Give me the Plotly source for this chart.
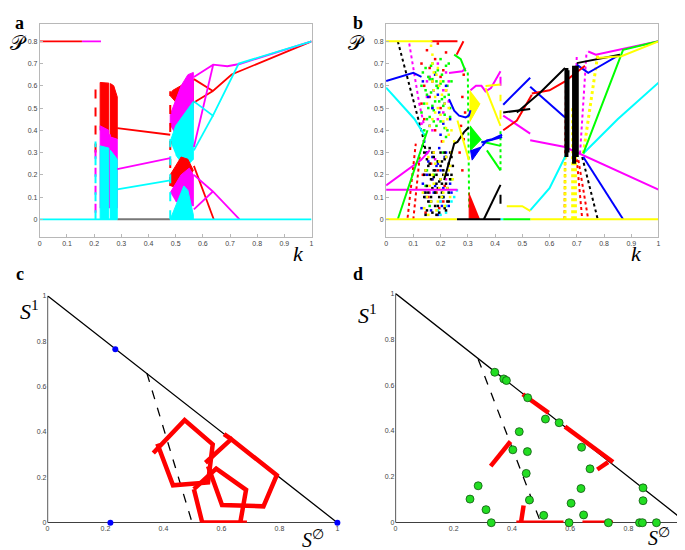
import plotly.graph_objects as go

# ---------------- Panel a data ----------------
a_red_k = [0, 0.155, None, 0.285, 0.48, None, 0.567, 0.637, 0.706, 1.0, None, 0.567, 0.637, None, 0.567, 0.64]
a_red_p = [0.8, 0.8, None, 0.41, 0.38, None, 0.525, 0.577, 0.651, 0.8, None, 0.63, 0.577, None, 0.24, 0.0]
a_mag_k = [0.155, 0.225, None, 0.285, 0.48, None, 0.567, 0.638, 0.69, 0.735, 1.0, None, 0.567, 0.638, None, 0.567, 0.637, 0.735, None, 0.567, 0.637]
a_mag_p = [0.8, 0.8, None, 0.225, 0.275, None, 0.64, 0.695, 0.688, 0.698, 0.8, None, 0.325, 0.695, None, 0.2, 0.125, 0.0, None, 0.045, 0.125]
a_cyan_k = [0, 0.285, None, 0.48, 1.0, None, 0.285, 0.48, None, 0.567, 0.637, 0.732, 1.0, None, 0.567, 0.637]
a_cyan_p = [0, 0, None, 0, 0, None, 0.135, 0.175, None, 0.53, 0.466, 0.70, 0.8, None, 0.31, 0.466]
a_gray_k = [0.285, 0.48]
a_gray_p = [0, 0]
# chaotic bands (outlines of the filled regions)
a_red_band1_k = [0.222, 0.222, 0.254, 0.254]
a_red_band1_p = [0.40, 0.615, 0.612, 0.38]
a_red_band2_k = [0.26, 0.26, 0.272, 0.285, 0.285]
a_red_band2_p = [0.37, 0.61, 0.60, 0.55, 0.36]
a_mag_band1_k = [0.222, 0.222, 0.254, 0.254, 0.26, 0.26, 0.285, 0.285]
a_mag_band1_p = [0.05, 0.42, 0.40, 0.38, 0.38, 0.37, 0.36, 0.05]
a_cyan_band1_k = [0.222, 0.222, 0.254, 0.254, 0.26, 0.26, 0.285, 0.285]
a_cyan_band1_p = [0.0, 0.33, 0.32, 0.0, 0.0, 0.31, 0.27, 0.0]
a_red_band3_k = [0.48, 0.49, 0.54, 0.565, 0.565, 0.52, 0.48]
a_red_band3_p = [0.565, 0.58, 0.615, 0.625, 0.50, 0.50, 0.555]
a_mag_band3_k = [0.48, 0.48, 0.52, 0.545, 0.565, 0.565, 0.52, 0.49]
a_mag_band3_p = [0.42, 0.47, 0.60, 0.65, 0.66, 0.45, 0.37, 0.40]
a_cyan_band3_k = [0.48, 0.50, 0.565, 0.565, 0.535, 0.50]
a_cyan_band3_p = [0.35, 0.42, 0.53, 0.27, 0.23, 0.29]
a_red_band4_k = [0.48, 0.48, 0.52, 0.545, 0.565, 0.54, 0.50]
a_red_band4_p = [0.15, 0.20, 0.28, 0.27, 0.22, 0.17, 0.14]
a_mag_band4_k = [0.48, 0.52, 0.55, 0.565, 0.565, 0.50]
a_mag_band4_p = [0.12, 0.20, 0.23, 0.20, 0.06, 0.08]
a_cyan_band4_k = [0.48, 0.53, 0.545, 0.565, 0.565]
a_cyan_band4_p = [0.0, 0.15, 0.13, 0.02, 0.0]
a_dash_red_k = [0.205, 0.205, None, 0.48, 0.48]
a_dash_red_p = [0.30, 0.62, None, 0.15, 0.575]
a_dash_mag_k = [0.205, 0.205]
a_dash_mag_p = [0.03, 0.33]
a_dash_cyan_k = [0.205, 0.205, None, 0.48, 0.48]
a_dash_cyan_p = [0.0, 0.35, None, 0.0, 0.36]

# ---------------- Panel b data ----------------
b_yellow_k = [0, 0.17, None, 0, 0.26, None, 0.53, 1.0, None, 0.443, 0.5, 0.53, None, 0.365, 0.42, None, 0.365, 0.42,
              None, 0.262, 0.304, None, 0.773, 0.864, 1.0]
b_yellow_p = [0.8, 0.8, None, 0, 0, None, 0, 0, None, 0.059, 0.059, 0.037, None, 0.599, 0.606, None, 0.59, 0.42,
              None, 0.444, 0.266, None, 0.725, 0.733, 0.8]
b_red_k = [0.164, 0.262, None, 0.259, 0.284, None, 0.43, 0.48, 0.535, None, 0.535, 0.6, 0.657, 0.70, 0.73]
b_red_p = [0.8, 0.8, None, 0.74, 0.8, None, 0.40, 0.444, 0.56, None, 0.565, 0.58, 0.62, 0.66, 0.69]
b_black_k = [0.26, 0.42, None, 0.359, 0.42, None, 0.213, 0.25, 0.262, 0.286, 0.304, None, 0.43, 0.529, None, 0.48, 0.566, 0.657,
             None, 0.70, 0.858]
b_black_p = [0, 0, None, 0, 0.155, None, 0.177, 0.34, 0.348, 0.392, 0.414, None, 0.48, 0.496, None, 0.48, 0.57, 0.68,
             None, 0.702, 0.74]
b_blue_k = [0, 0.1, 0.13, None, 0.231, 0.25, 0.268, 0.292, 0.304, 0.31, None, 0.353, 0.37, 0.39, 0.426, None, 0.35, 0.426,
            None, 0.43, 0.529, None, 0.529, 0.657, None, 0.70, 0.742, 0.773, 0.858, None, 0.724, 0.87]
b_blue_p = [0.621, 0.658, 0.64, None, 0.54, 0.488, 0.466, 0.458, 0.466, 0.49, None, 0.33, 0.355, 0.36, 0.38, None, 0.345, 0.37,
            None, 0.515, 0.636, None, 0.596, 0.458, None, 0.695, 0.658, 0.68, 0.74, None, 0.28, 0.0]
b_cyan_k = [0, 0.104, 0.14, None, 0.42, 0.43, None, 0.529, 0.6, 0.663, None, 0.724, 0.85, 1.0]
b_cyan_p = [0.592, 0.451, 0.38, None, 0, 0, None, 0.04, 0.14, 0.296, None, 0.296, 0.45, 0.614]
b_mag_k = [0, 0.128, 0.16, None, 0, 0.262, None, 0.231, 0.28, 0.292, None, 0.31, 0.33, 0.35, 0.365, 0.385, 0.42,
           None, 0.43, 0.529, None, 0.529, 0.657, 1.0, None, 0.742, 0.77, 1.0]
b_mag_p = [0.152, 0.266, 0.31, None, 0.133, 0.133, None, 0.658, 0.665, 0.68, None, 0.58, 0.60, 0.60, 0.575, 0.59, 0.665,
           None, 0.466, 0.385, None, 0.355, 0.325, 0.133, None, 0.754, 0.74, 0.8]
b_green_k = [0.043, 0.152, None, 0.25, 0.274, 0.292, None, 0.35, 0.42, None, 0.37, 0.42, None, 0.43, 0.53, None, 0.724, 0.87, 1.0]
b_green_p = [0, 0.40, None, 0.74, 0.72, 0.665, None, 0.35, 0.33, None, 0.31, 0.22, None, 0, 0, None, 0.296, 0.762, 0.8]
# filled wedges in panel b
b_yellow_wedge_k = [0.308, 0.308, 0.345]
b_yellow_wedge_p = [0.58, 0.44, 0.52]
b_green_wedge_k = [0.31, 0.31, 0.35]
b_green_wedge_p = [0.42, 0.31, 0.36]
b_blue_wedge_k = [0.31, 0.316, 0.353]
b_blue_wedge_p = [0.31, 0.266, 0.33]
b_red_wedge_k = [0.305, 0.305, 0.345]
b_red_wedge_p = [0.12, 0.0, 0.0]
# dotted trajectories in panel b
b_dot_black_k = [0.043, 0.134, 0.15, None, 0.72, 0.777]
b_dot_black_p = [0.8, 0.377, 0.28, None, 0.28, 0.0]
b_dot_mag_k = [0.085, 0.122, 0.14, None, 0.712, 0.736, None, 0.695, 0.70]
b_dot_mag_p = [0.79, 0.518, 0.42, None, 0.296, 0.754, None, 0.5, 0.74]
b_dot_red_k = [0.079, 0.109, None, 0.10, 0.125, None, 0.706, 0.742, None, 0.70, 0.72, None, 0.655, 0.66]
b_dot_red_p = [0.007, 0.34, None, 0.0, 0.3, None, 0.266, 0.0, None, 0.27, 0.0, None, 0.0, 0.6]
b_dot_yellow_k = [0.724, 0.777, None, 0.657, 0.657, None, 0.685, 0.685, None, 0.695, 0.695]
b_dot_yellow_p = [0.296, 0.74, None, 0.0, 0.28, None, 0.0, 0.5, None, 0.0, 0.45]
b_dot_green_k = [0.3, 0.305, None, 0.42, 0.42]
b_dot_green_p = [0.66, 0.05, None, 0.22, 0.40]
b_dash_yellow_k = [0.42, 0.42]
b_dash_yellow_p = [0.45, 0.56]
b_dash_mag_k = [0.42, 0.42]
b_dash_mag_p = [0.60, 0.66]
b_dash_black_k = [0.42, 0.42]
b_dash_black_p = [0.07, 0.13]
# thick black column of the second chaotic window
b_col_black_k = [0.662, 0.662, None, 0.666, 0.666, None, 0.69, 0.69, None, 0.70, 0.70]
b_col_black_p = [0.28, 0.68, None, 0.30, 0.67, None, 0.25, 0.69, None, 0.28, 0.69]
# scattered iterates of the first chaotic window
b_cl_green_k = [0.13, 0.14, 0.145, 0.15, 0.16, 0.165, 0.17, 0.175, 0.18, 0.185, 0.19, 0.2, 0.205, 0.21, 0.215, 0.22, 0.225, 0.23,
                0.14, 0.155, 0.17, 0.185, 0.2, 0.215, 0.235, 0.15, 0.18, 0.21, 0.24, 0.16, 0.19,
                0.135, 0.145, 0.155, 0.165, 0.175, 0.185, 0.195, 0.205, 0.215, 0.225, 0.235, 0.13, 0.15, 0.17, 0.19,
                0.21, 0.23, 0.14, 0.16, 0.18, 0.2, 0.22, 0.24, 0.145, 0.175, 0.205]
b_cl_green_p = [0.6, 0.52, 0.68, 0.45, 0.63, 0.57, 0.7, 0.49, 0.66, 0.42, 0.59, 0.72, 0.54, 0.62, 0.47, 0.69, 0.4, 0.56,
                0.38, 0.64, 0.51, 0.6, 0.44, 0.55, 0.5, 0.22, 0.12, 0.3, 0.18, 0.06, 0.26,
                0.66, 0.58, 0.5, 0.69, 0.44, 0.62, 0.53, 0.65, 0.41, 0.6, 0.46, 0.48, 0.56, 0.63, 0.67,
                0.51, 0.7, 0.4, 0.46, 0.53, 0.61, 0.37, 0.62, 0.15, 0.2, 0.1]
b_cl_yellow_k = [0.165, 0.17, 0.17, 0.175, 0.17, 0.175, 0.18, 0.19, 0.2, 0.21, 0.22, 0.23, 0.185, 0.195, 0.205, 0.215, 0.225,
                 0.14, 0.15, 0.16, 0.17, 0.18, 0.19, 0.2, 0.21, 0.22, 0.23, 0.24, 0.155, 0.175, 0.195, 0.215, 0.235, 0.25,
                 0.135, 0.145, 0.155, 0.165, 0.175, 0.185, 0.195, 0.205, 0.215, 0.225, 0.235, 0.245, 0.16, 0.18, 0.2,
                 0.22, 0.24, 0.15, 0.17, 0.19, 0.21, 0.23]
b_cl_yellow_p = [0.78, 0.74, 0.7, 0.66, 0.62, 0.58, 0.55, 0.5, 0.47, 0.44, 0.41, 0.38, 0.65, 0.6, 0.56, 0.52, 0.45,
                 0.05, 0.1, 0.15, 0.2, 0.25, 0.08, 0.18, 0.12, 0.28, 0.22, 0.3, 0.02, 0.3, 0.14, 0.06, 0.1, 0.35,
                 0.12, 0.22, 0.28, 0.08, 0.16, 0.04, 0.26, 0.1, 0.2, 0.14, 0.24, 0.18, 0.42, 0.48, 0.62,
                 0.58, 0.4, 0.52, 0.45, 0.68, 0.35, 0.5]
b_cl_red_k = [0.13, 0.15, 0.17, 0.19, 0.21, 0.14, 0.16, 0.18, 0.2, 0.22, 0.135, 0.155, 0.175, 0.195, 0.215, 0.145, 0.165, 0.185,
              0.205, 0.27, 0.275, 0.28, 0.285, 0.29, 0.28, 0.285,
              0.14, 0.16, 0.18, 0.2, 0.22, 0.15, 0.17, 0.19, 0.21, 0.13]
b_cl_red_p = [0.7, 0.76, 0.62, 0.79, 0.67, 0.45, 0.55, 0.4, 0.5, 0.58, 0.2, 0.1, 0.3, 0.05, 0.15, 0.03, 0.25, 0.12,
              0.35, 0.3, 0.42, 0.55, 0.65, 0.48, 0.22, 0.36,
              0.6, 0.68, 0.72, 0.64, 0.75, 0.3, 0.18, 0.22, 0.08, 0.52]
b_cl_mag_k = [0.13, 0.15, 0.17, 0.19, 0.21, 0.23, 0.14, 0.16, 0.18, 0.2, 0.22, 0.16, 0.19, 0.22,
              0.15, 0.17, 0.19, 0.21, 0.23]
b_cl_mag_p = [0.43, 0.55, 0.4, 0.6, 0.48, 0.53, 0.2, 0.12, 0.27, 0.08, 0.18, 0.64, 0.7, 0.66,
              0.62, 0.5, 0.45, 0.58, 0.62]
b_cl_blue_k = [0.13, 0.14, 0.15, 0.16, 0.17, 0.18, 0.19, 0.2, 0.21, 0.22, 0.23, 0.24, 0.135, 0.155, 0.175, 0.195, 0.215, 0.235,
               0.14, 0.16, 0.18, 0.2, 0.22, 0.15, 0.17, 0.19, 0.21,
               0.145, 0.165, 0.185, 0.205, 0.225, 0.135, 0.155, 0.175, 0.195, 0.215, 0.235, 0.17, 0.19, 0.21]
b_cl_blue_p = [0.05, 0.12, 0.2, 0.08, 0.28, 0.15, 0.02, 0.22, 0.1, 0.3, 0.06, 0.12, 0.62, 0.55, 0.58, 0.48, 0.52, 0.45,
               0.35, 0.42, 0.65, 0.38, 0.6, 0.3, 0.18, 0.25, 0.14,
               0.1, 0.04, 0.24, 0.06, 0.2, 0.16, 0.26, 0.12, 0.32, 0.28, 0.16, 0.5, 0.56, 0.43]
b_cl_black_k = [0.14, 0.145, 0.15, 0.155, 0.16, 0.165, 0.17, 0.175, 0.18, 0.185, 0.19, 0.195, 0.2, 0.205, 0.21, 0.215, 0.22,
                0.225, 0.23, 0.235, 0.14, 0.15, 0.16, 0.17, 0.18, 0.19, 0.2, 0.21, 0.22, 0.23, 0.24, 0.145, 0.165, 0.185,
                0.205, 0.225, 0.155, 0.175, 0.195, 0.215,
                0.145, 0.155, 0.165, 0.175, 0.185, 0.195, 0.205, 0.215, 0.225, 0.235, 0.245, 0.15, 0.16, 0.17, 0.18,
                0.19, 0.2, 0.21, 0.22, 0.23, 0.24, 0.135, 0.14]
b_cl_black_p = [0.3, 0.22, 0.15, 0.08, 0.25, 0.18, 0.03, 0.28, 0.12, 0.2, 0.26, 0.1, 0.3, 0.16, 0.22, 0.05, 0.28, 0.14,
                0.25, 0.3, 0.1, 0.04, 0.32, 0.14, 0.22, 0.06, 0.18, 0.1, 0.16, 0.08, 0.2, 0.12, 0.08, 0.02, 0.26, 0.2,
                0.24, 0.19, 0.17, 0.27,
                0.02, 0.12, 0.1, 0.22, 0.16, 0.03, 0.12, 0.3, 0.08, 0.18, 0.24, 0.27, 0.2, 0.3, 0.06,
                0.14, 0.24, 0.2, 0.04, 0.12, 0.28, 0.33, 0.2]
b_cl_cyan_k = [0.19, 0.2, 0.21, 0.22, 0.23, 0.24, 0.25, 0.26, 0.2, 0.22]
b_cl_cyan_p = [0.04, 0.08, 0.1, 0.06, 0.12, 0.08, 0.1, 0.13, 0.02, 0.03]

# ---------------- Panel c data ----------------
simplex_x = [0, 1, 0, 0]
simplex_y = [0, 0, 1, 0]
c_dash_x = [0.343, 0.499]
c_dash_y = [0.658, 0.0]
c_blue_x = [0.234, 0.217, 1.0]
c_blue_y = [0.764, 0.0, 0.0]
c_red_x = [0.365, 0.473, 0.570, 0.554, 0.433, 0.379, None,
           0.545, 0.634, 0.791, 0.745, 0.602, 0.554, None, 0.609, 0.634, None,
           0.505, 0.582, 0.685, 0.665, 0.534, 0.505, None, 0.534, 0.688]
c_red_y = [0.307, 0.452, 0.345, 0.177, 0.165, 0.348, None,
           0.264, 0.368, 0.209, 0.072, 0.078, 0.249, None, 0.39, 0.368, None,
           0.148, 0.238, 0.145, 0.0, 0.0, 0.148, None, 0.0, 0.0]

# ---------------- Panel d data ----------------
d_dash_x = [0.284, 0.499]
d_dash_y = [0.713, 0.0]
d_red_x = [0.437, 0.526, None, 0.582, 0.747, None, 0.693, 0.730, None, 0.327, 0.395, None, 0.440, 0.431, None,
           0.415, 0.577, None, 0.642, 0.747]
d_red_y = [0.560, 0.479, None, 0.419, 0.265, None, 0.232, 0.264, None, 0.247, 0.354, None, 0.075, 0.0, None,
           0.0, 0.0, None, 0.0, 0.0]
d_green_x = [0.341, 0.372, 0.381, 0.454, 0.515, 0.562, 0.425, 0.403, 0.453, 0.639, 0.668, 0.449, 0.284, 0.256, 0.311,
             0.460, 0.637, 0.603, 0.509, 0.646, 0.329, 0.596, 0.731, 0.838, 0.848, 0.896, 0.850, 0.850]
d_green_y = [0.656, 0.627, 0.620, 0.545, 0.452, 0.436, 0.397, 0.318, 0.310, 0.329, 0.235, 0.215, 0.161, 0.103, 0.057,
             0.099, 0.149, 0.085, 0.032, 0.034, 0.0, 0.0, 0.0, 0.0, 0.0, 0.0, 0.152, 0.096]

tick_k = [0, 0.1, 0.2, 0.3, 0.4, 0.5, 0.6, 0.7, 0.8, 0.9, 1]
tick_k_text = ["0", "0.1", "0.2", "0.3", "0.4", "0.5", "0.6", "0.7", "0.8", "0.9", "1"]
tick_p = [0, 0.1, 0.2, 0.3, 0.4, 0.5, 0.6, 0.7, 0.8]
tick_p_text = ["0", "0.1", "0.2", "0.3", "0.4", "0.5", "0.6", "0.7", "0.8"]
tick_s = [0, 0.2, 0.4, 0.6, 0.8, 1]
tick_s_text = ["0", "0.2", "0.4", "0.6", "0.8", "1"]

RED, MAG, CYAN, GREEN, BLUE, BLACK, YEL = "#ff0000", "#ff00ff", "#00ffff", "#00ff00", "#0000ff", "#000000", "#ffff00"

fig = go.Figure()


def line(x, y, color, ax, width=2, dash=None):
    fig.add_trace(go.Scatter(x=x, y=y, mode="lines", xaxis="x" + ax, yaxis="y" + ax,
                             line=dict(color=color, width=width, dash=dash), hoverinfo="skip"))


def band(x, y, color, ax):
    fig.add_trace(go.Scatter(x=x, y=y, mode="lines", fill="toself", fillcolor=color, xaxis="x" + ax, yaxis="y" + ax,
                             line=dict(color=color, width=1), hoverinfo="skip"))


def dots(x, y, color, ax, size=3, symbol="square", outline=None):
    fig.add_trace(go.Scatter(x=x, y=y, mode="markers", xaxis="x" + ax, yaxis="y" + ax, cliponaxis=False,
                             marker=dict(color=color, size=size, symbol=symbol,
                                         line=dict(width=0.8 if outline else 0, color=outline or color)),
                             hoverinfo="skip"))


# ----- panel a -----
line(a_gray_k, a_gray_p, "#777777", "", 2)
for xs, ys, c in [(a_red_band1_k, a_red_band1_p, RED), (a_red_band2_k, a_red_band2_p, RED),
                  (a_mag_band1_k, a_mag_band1_p, MAG), (a_cyan_band1_k, a_cyan_band1_p, CYAN),
                  (a_red_band3_k, a_red_band3_p, RED), (a_mag_band3_k, a_mag_band3_p, MAG),
                  (a_cyan_band3_k, a_cyan_band3_p, CYAN), (a_red_band4_k, a_red_band4_p, RED),
                  (a_mag_band4_k, a_mag_band4_p, MAG), (a_cyan_band4_k, a_cyan_band4_p, CYAN)]:
    band(xs, ys, c, "")
line(a_dash_red_k, a_dash_red_p, RED, "", 2, "dash")
line(a_dash_mag_k, a_dash_mag_p, MAG, "", 2, "dash")
line(a_dash_cyan_k, a_dash_cyan_p, CYAN, "", 2, "dash")
line(a_red_k, a_red_p, RED, "", 1.8)
line(a_mag_k, a_mag_p, MAG, "", 1.8)
line(a_cyan_k, a_cyan_p, CYAN, "", 1.8)

# ----- panel b -----
line(b_dot_red_k, b_dot_red_p, RED, "2", 2, "dot")
line(b_dot_mag_k, b_dot_mag_p, MAG, "2", 2, "dot")
line(b_dot_green_k, b_dot_green_p, GREEN, "2", 2, "dot")
line(b_dot_black_k, b_dot_black_p, BLACK, "2", 2, "dot")
line(b_dot_yellow_k, b_dot_yellow_p, YEL, "2", 3, "dot")
dots(b_cl_red_k, b_cl_red_p, RED, "2", 2.5)
dots(b_cl_mag_k, b_cl_mag_p, MAG, "2", 2.5)
dots(b_cl_cyan_k, b_cl_cyan_p, CYAN, "2", 2.5)
dots(b_cl_green_k, b_cl_green_p, GREEN, "2", 2.5)
dots(b_cl_blue_k, b_cl_blue_p, BLUE, "2", 2.5)
dots(b_cl_black_k, b_cl_black_p, BLACK, "2", 2.5)
dots(b_cl_yellow_k, b_cl_yellow_p, YEL, "2", 2.5)
band(b_red_wedge_k, b_red_wedge_p, RED, "2")
band(b_green_wedge_k, b_green_wedge_p, GREEN, "2")
band(b_blue_wedge_k, b_blue_wedge_p, BLUE, "2")
band(b_yellow_wedge_k, b_yellow_wedge_p, YEL, "2")
line(b_cyan_k, b_cyan_p, CYAN, "2")
line(b_mag_k, b_mag_p, MAG, "2")
line(b_green_k, b_green_p, GREEN, "2")
line(b_blue_k, b_blue_p, BLUE, "2")
line(b_red_k, b_red_p, RED, "2")
line(b_black_k, b_black_p, BLACK, "2")
line(b_col_black_k, b_col_black_p, BLACK, "2", 4)
line(b_dash_yellow_k, b_dash_yellow_p, YEL, "2", 2, "dash")
line(b_dash_mag_k, b_dash_mag_p, MAG, "2", 2, "dash")
line(b_dash_black_k, b_dash_black_p, BLACK, "2", 2, "dash")
line(b_yellow_k, b_yellow_p, YEL, "2")

# ----- panel c -----
line(simplex_x, simplex_y, BLACK, "3", 1.3)
line(c_dash_x, c_dash_y, BLACK, "3", 1.3, "dash")
line(c_red_x, c_red_y, RED, "3", 4.5)
dots(c_blue_x, c_blue_y, BLUE, "3", size=6, symbol="circle")

# ----- panel d -----
line(simplex_x, simplex_y, BLACK, "4", 1.3)
line(d_dash_x, d_dash_y, BLACK, "4", 1.3, "dash")
line(d_red_x, d_red_y, RED, "4", 4.5)
dots(d_green_x, d_green_y, "#22dd22", "4", size=8, symbol="circle", outline="#115511")

tickfont = dict(family="Liberation Sans, Arial", size=7, color="#444444")
box_axis = dict(showline=True, mirror=True, linecolor="#b8b8b8", linewidth=1, ticks="inside", ticklen=3,
                tickcolor="#b8b8b8", showgrid=False, zeroline=False, tickfont=tickfont)
plain_axis = dict(showline=False, ticks="", showgrid=False, zeroline=False, tickfont=tickfont, range=[0, 1],
                  tickvals=tick_s, ticktext=tick_s_text)

yA = [(550 - 228) / 550, (550 - 12) / 550]
layout = dict(
    width=685, height=550, margin=dict(l=0, r=0, t=0, b=0), showlegend=False,
    plot_bgcolor="white", paper_bgcolor="white",
    xaxis=dict(domain=[30 / 685, 303.3 / 685], range=[0, 1], anchor="y", tickvals=tick_k, ticktext=tick_k_text, **box_axis),
    yaxis=dict(domain=yA, range=[-0.08, 0.8785], anchor="x", tickvals=tick_p, ticktext=tick_p_text, **box_axis),
    xaxis2=dict(domain=[378.3 / 685, 652.3 / 685], range=[0, 1], anchor="y2", tickvals=tick_k, ticktext=tick_k_text, **box_axis),
    yaxis2=dict(domain=yA, range=[-0.08, 0.8785], anchor="x2", tickvals=tick_p, ticktext=tick_p_text, **box_axis),
    xaxis3=dict(domain=[37.7 / 685, 329.3 / 685], anchor="y3", **plain_axis),
    yaxis3=dict(domain=[(550 - 517.3) / 550, (550 - 287.3) / 550], anchor="x3", **plain_axis),
    xaxis4=dict(domain=[387.7 / 685, 680.7 / 685], anchor="y4", **plain_axis),
    yaxis4=dict(domain=[(550 - 517.3) / 550, (550 - 285) / 550], anchor="x4", **plain_axis),
)
fig.update_layout(**layout)

serif = "Liberation Serif, DejaVu Serif, serif"


def label(text, px, py, size, bold=False, italic=False):
    fig.add_annotation(x=px / 685, y=1 - py / 550, xref="paper", yref="paper", text=text, showarrow=False,
                       xanchor="center", yanchor="middle",
                       font=dict(family=serif, size=size, color="black",
                                 weight="bold" if bold else "normal", style="italic" if italic else "normal"))


label("a", 10, 11, 18, bold=True)
label("b", 350, 11, 18, bold=True)
label("c", 10, 265, 18, bold=True)
label("d", 350, 265, 18, bold=True)
label("𝒫", 9, 31, 20)
label("𝒫", 349, 31, 20)
label("k", 290, 245, 22, italic=True)
label("k", 630, 245, 22, italic=True)
label("<i>S</i><sup>1</sup>", 20, 302, 22)
label("<i>S</i><sup>1</sup>", 360, 306, 22)
label("<i>S</i><sup>∅</sup>", 305, 534, 20)
label("<i>S</i><sup>∅</sup>", 653, 532, 20)

fig.write_html("out.html")
